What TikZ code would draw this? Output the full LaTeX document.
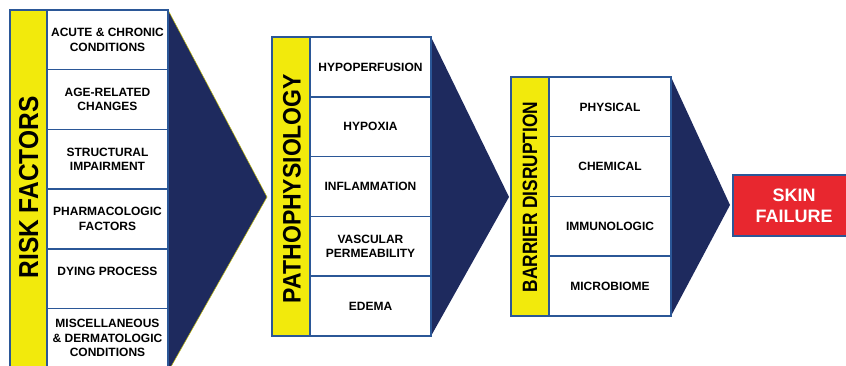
\documentclass[tikz,border=0pt]{standalone}
\usepackage{fontspec}
\setmainfont{Liberation Sans}
\definecolor{ybar}{HTML}{F2EA0C}
\definecolor{navy}{HTML}{1E2A5E}
\definecolor{bblue}{HTML}{2B5797}
\definecolor{skinred}{HTML}{E8272F}
\begin{document}
\begin{tikzpicture}[x=1pt,y=-1pt,
  cell/.style={draw=bblue, line width=1.5pt, fill=white, align=center,
    inner sep=0pt, minimum height=59.7pt,
    font=\bfseries\fontsize{12}{14.5}\selectfont},
  bar/.style={draw=bblue, line width=1.5pt, fill=ybar, rotate=90, inner sep=0pt},
  arrowfill/.style={fill=navy},
  skin/.style={draw=bblue, line width=1.5pt, fill=skinred, text=white, align=center,
    inner sep=0pt, minimum width=122pt, minimum height=61pt,
    font=\bfseries\fontsize{18}{21}\selectfont}]
\useasboundingbox (0,0) rectangle (846,366);
\fill[white] (0,0) rectangle (846,366);

% named corner coordinates of the arrow heads
\coordinate (t1a) at (168,10);  \coordinate (t1tip) at (267,197); \coordinate (t1b) at (168,372);
\coordinate (t2a) at (431,37);  \coordinate (t2tip) at (509,197); \coordinate (t2b) at (431,336);
\coordinate (t3a) at (671,77);  \coordinate (t3tip) at (730,205); \coordinate (t3b) at (671,316);

\fill[arrowfill, draw=ybar!80!black, line width=0.5pt] (t1a) -- (t1tip) -- (t1b) -- cycle;
\fill[arrowfill] (t2a) -- (t2tip) -- (t2b) -- cycle;
\fill[arrowfill] (t3a) -- (t3tip) -- (t3b) -- cycle;

% group 1
\node[bar, minimum width=359pt, minimum height=37pt] at (28.5,189.5) {};
\node[rotate=90, inner sep=0pt, font=\bfseries\fontsize{24.5}{24.5}\selectfont] (rf) at (28.6,187.5)
  {\scalebox{1}[1.12]{RISK FACTORS}};
\begin{scope}[every node/.style={cell, minimum width=121pt}]
\node (r1) at (107.5,39.85)  {ACUTE \& CHRONIC\\CONDITIONS};
\node (r2) at (107.5,99.55)  {AGE-RELATED\\CHANGES};
\node (r3) at (107.5,159.25) {STRUCTURAL\\IMPAIRMENT};
\node (r4) at (107.5,218.95) {PHARMACOLOGIC\\FACTORS};
\node (r5) at (107.5,278.65) {DYING PROCESS\\\phantom{X}};
\node (r6) at (107.5,338.35) {MISCELLANEOUS\\\& DERMATOLOGIC\\CONDITIONS};
\end{scope}

% group 2
\node[bar, minimum width=299pt, minimum height=38pt] at (291,186.5) {};
\node[rotate=90, inner sep=0pt, font=\bfseries\fontsize{23}{23}\selectfont] (pp) at (292,188.5)
  {\scalebox{1}[1.1]{PATHOPHYSIOLOGY}};

\begin{scope}[every node/.style={cell, minimum width=121pt, minimum height=59.8pt}]
\node (p1) at (370.5,66.9)  {HYPOPERFUSION};
\node (p2) at (370.5,126.7) {HYPOXIA};
\node (p3) at (370.5,186.5) {INFLAMMATION};
\node (p4) at (370.5,246.3) {VASCULAR\\PERMEABILITY};
\node (p5) at (370.5,306.1) {EDEMA};
\end{scope}

% group 3
\node[bar, minimum width=239pt, minimum height=38pt] at (530,196.5) {};
\node[rotate=90, inner sep=0pt, font=\bfseries\fontsize{17.3}{17.3}\selectfont] (bd) at (530,197)
  {\scalebox{1}[1.2]{BARRIER DISRUPTION}};
\begin{scope}[every node/.style={cell, minimum width=122pt, minimum height=59.75pt}]
\node (b1) at (610,106.9) {PHYSICAL};
\node (b2) at (610,166.6) {CHEMICAL};
\node (b3) at (610,226.4) {IMMUNOLOGIC};
\node (b4) at (610,286.1) {MICROBIOME};
\end{scope}

% outcome
\node[skin] (sf) at (794,205.5) {SKIN\\FAILURE};
\end{tikzpicture}
\end{document}
